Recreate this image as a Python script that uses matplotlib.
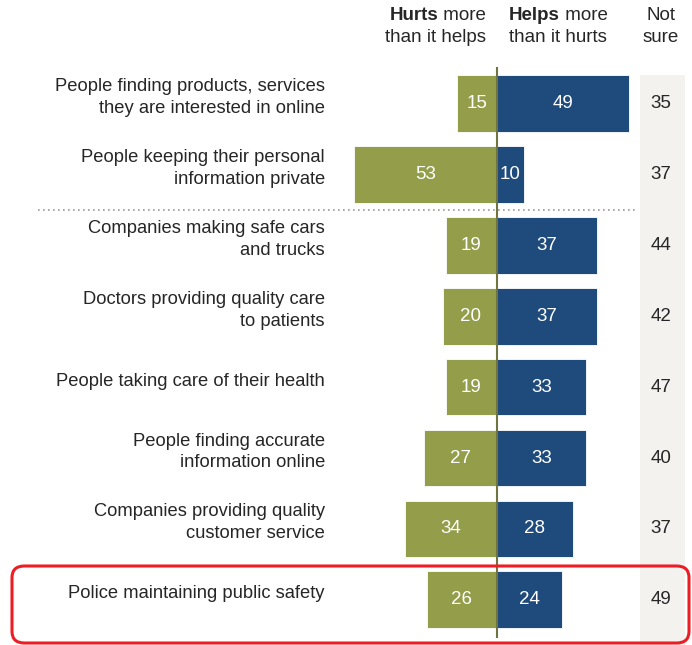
import numpy as np
import matplotlib.pyplot as plt
from matplotlib.patches import FancyBboxPatch, Rectangle

plt.rcParams['font.family'] = ['Liberation Sans', 'DejaVu Sans']

# Data (percent)
categories = [
    "People finding products, services\nthey are interested in online",
    "People keeping their personal\ninformation private",
    "Companies making safe cars\nand trucks",
    "Doctors providing quality care\nto patients",
    "People taking care of their health",
    "People finding accurate\ninformation online",
    "Companies providing quality\ncustomer service",
    "Police maintaining public safety",
]
hurts = [15, 53, 19, 20, 19, 27, 34, 26]
helps = [49, 10, 37, 37, 33, 33, 28, 24]
not_sure = [35, 37, 44, 42, 47, 40, 37, 49]

GREEN = '#939d4a'
BLUE = '#1f4a7c'
TEXT = '#262626'

W, H = 692, 645
fig = plt.figure(figsize=(W / 100, H / 100), dpi=100)
ax = fig.add_axes([0, 0, 1, 1])

# layout: zero line at pixel 497, 2.7 px per percentage point, rows 70.9 px apart
x0_px, scale = 497, 2.7
row0_px, row_px = 103.5, 70.9
ax.set_xlim(-x0_px / scale, (W - x0_px) / scale)
ax.set_ylim((H - row0_px) / row_px, -row0_px / row_px)
ax.axis('off')


def px_x(p):
    return (p - x0_px) / scale


def px_y(p):
    return (p - row0_px) / row_px


y = np.arange(len(categories))

# "Not sure" background column
ax.add_patch(Rectangle((px_x(640), -0.4), px_x(685) - px_x(640), px_y(H) + 0.4,
                       facecolor='#f3f2ef', edgecolor='none', zorder=0))

ax.barh(y, [-v for v in hurts], height=0.8, color=GREEN, edgecolor='white',
        linewidth=0.6, zorder=2)
ax.barh(y, helps, height=0.8, color=BLUE, edgecolor='white',
        linewidth=0.6, zorder=2)

NFS = 13.5
for i in range(len(categories)):
    ax.text(-hurts[i] / 2, i, str(hurts[i]), ha='center', va='center',
            color='white', fontsize=NFS, zorder=3)
    ax.text(helps[i] / 2, i, str(helps[i]), ha='center', va='center',
            color='white', fontsize=NFS, zorder=3)
    ax.text(px_x(661), i, str(not_sure[i]), ha='center', va='center',
            color=TEXT, fontsize=NFS, zorder=3)
    ax.text(px_x(325), i - 6 / row_px, categories[i], ha='right', va='center',
            color=TEXT, fontsize=13.2, linespacing=1.38, zorder=3)

# zero line and separator
ax.plot([0, 0], [px_y(68), px_y(637)], color='#6f7440', linewidth=1.5, zorder=4)
ax.hlines(1.5, px_x(38), px_x(635), colors='#9a9a9a', linestyles=(0, (1, 2)),
          linewidth=1.2, zorder=1)

# column headers
HFS = 13.5
hdr = dict(fontsize=HFS, color=TEXT, va='center')
t = ax.text(px_x(486), px_y(15), " more", ha='right', **hdr)
ax.annotate("Hurts", xy=(0, 0.5), xycoords=t, ha='right', va='center',
            fontweight='bold', fontsize=HFS, color=TEXT)
ax.text(px_x(486), px_y(37), "than it helps", ha='right', **hdr)

t = ax.text(px_x(509), px_y(15), "Helps", ha='left', fontweight='bold', **hdr)
ax.annotate(" more", xy=(1, 0.5), xycoords=t, ha='left', va='center',
            fontsize=HFS, color=TEXT)
ax.text(px_x(509), px_y(37), "than it hurts", ha='left', **hdr)

ax.text(px_x(661), px_y(15), "Not", ha='center', **hdr)
ax.text(px_x(661), px_y(37), "sure", ha='center', **hdr)

# red highlight around the last row
fig.patches.append(FancyBboxPatch((12 / W, 1 - 643 / H), 677 / W, 77 / H,
                                  boxstyle="round,pad=0,rounding_size=0.018",
                                  transform=fig.transFigure, facecolor='none',
                                  edgecolor='#ee1c25', linewidth=2.2))

fig.savefig('out.png', dpi=100)
